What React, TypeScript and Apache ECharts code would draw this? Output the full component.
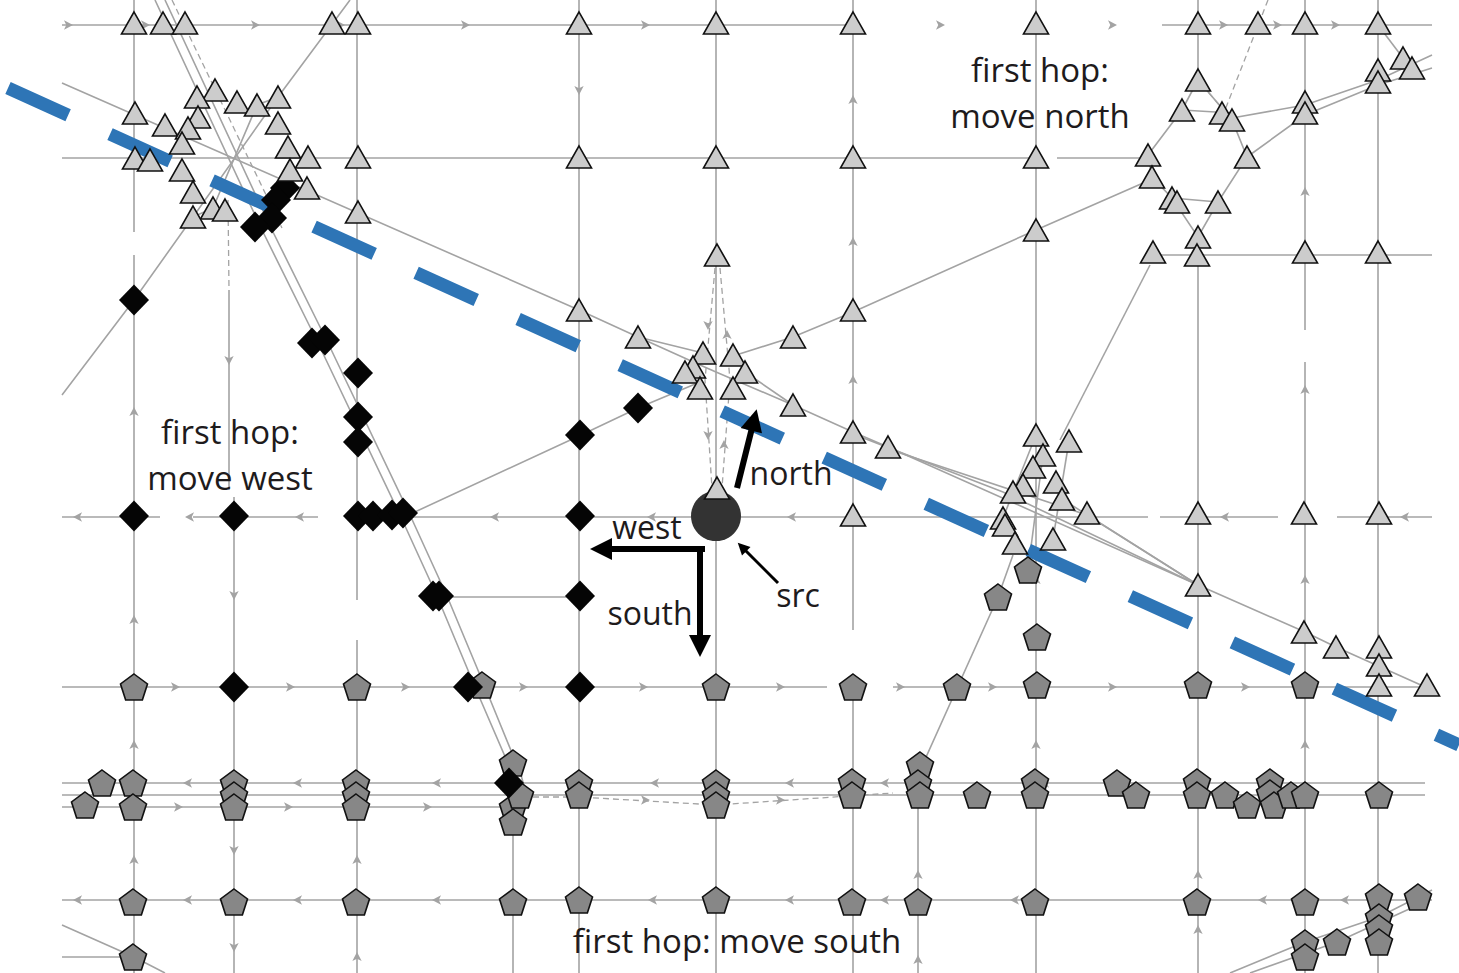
import React, { useEffect, useRef } from "react";
import * as echarts from "echarts";

type P = [number, number];

// Map nodes (map coordinates: x to the right, y downwards)
const triangles: P[] = [
  [134, 23], [163, 23], [185, 23], [332, 23], [358, 23], [579, 23], [716, 23], [853, 23], [1036, 23],
  [1198, 23], [1258, 23], [1305, 23], [1378, 23],
  [215, 90], [197, 97], [237, 102], [257, 105], [278, 97], [135, 113], [165, 125], [198, 117], [188, 128],
  [182, 143], [278, 123], [288, 147], [308, 157], [135, 158], [150, 160], [182, 170], [290, 170], [193, 192],
  [213, 208], [225, 210], [193, 217], [307, 188],
  [358, 157], [579, 157], [716, 157], [853, 157], [1036, 157], [358, 212], [717, 255],
  [579, 310], [638, 337], [703, 353], [733, 355], [793, 337], [853, 310], [693, 367], [685, 372], [745, 372],
  [700, 388], [733, 388], [793, 405], [853, 432], [888, 447], [853, 515], [1036, 230],
  [1198, 80], [1182, 110], [1222, 113], [1232, 120], [1305, 102], [1305, 113], [1378, 70], [1378, 82],
  [1403, 58], [1412, 68], [1148, 155], [1152, 177], [1247, 157], [1172, 198], [1177, 202], [1218, 202],
  [1198, 237], [1153, 252], [1197, 255], [1305, 252], [1378, 252],
  [1036, 435], [1069, 441], [1043, 455], [1033, 467], [1056, 482], [1023, 485], [1013, 492], [1062, 499],
  [1087, 513], [1003, 518], [1005, 525], [1015, 543], [1053, 539], [1198, 513], [1304, 513], [1379, 513],
  [1198, 585], [1304, 632], [1336, 647], [1379, 647], [1379, 665], [1379, 685], [1427, 685],
];

const topTriangle: P[] = [[717, 488]];

const diamonds: P[] = [
  [285, 188], [276, 200], [272, 218], [255, 227], [134, 300], [312, 343], [325, 340], [358, 373], [358, 417],
  [358, 442], [134, 516], [234, 516], [358, 516], [373, 516], [392, 515], [403, 513], [433, 596], [439, 596],
  [468, 687], [234, 687], [580, 435], [638, 408], [580, 516], [580, 596], [580, 687], [509, 783],
];

const pentagons: P[] = [
  [134, 687], [357, 687], [482, 685], [716, 687], [853, 687], [957, 687], [1037, 685], [1198, 685], [1305, 685],
  [1028, 570], [998, 597], [1037, 637],
  [102, 783], [133, 783], [85, 805], [133, 807], [234, 783], [234, 795], [234, 807], [356, 783], [356, 795],
  [356, 807], [513, 763], [513, 807], [513, 822], [520, 795], [579, 783], [579, 795], [716, 783], [716, 795],
  [716, 805], [852, 782], [852, 795], [920, 765], [918, 783], [920, 795], [977, 795], [1035, 782], [1035, 795],
  [1117, 783], [1136, 795], [1197, 782], [1197, 795], [1225, 795], [1247, 805], [1270, 782], [1270, 793],
  [1274, 805], [1291, 795], [1305, 795], [1379, 795],
  [133, 902], [234, 902], [356, 902], [513, 902], [579, 900], [716, 900], [852, 902], [918, 902], [1035, 902],
  [1197, 902], [1305, 902], [1379, 897], [1418, 897],
  [1379, 917], [1379, 928], [1379, 942], [1337, 942], [1305, 943], [1305, 957], [133, 957],
];

const sourceNode: P[] = [[716, 516]];

// Roads (solid)
const roads: P[][] = [
  [[134, 0], [134, 232]], [[134, 255], [134, 973]],
  [[229, 290], [229, 490]], [[234, 497], [234, 973]],
  [[357, 0], [357, 600]], [[357, 640], [357, 973]],
  [[513, 760], [513, 973]],
  [[579, 0], [579, 973]],
  [[716, 0], [716, 973]],
  [[853, 0], [853, 630]], [[853, 687], [853, 973]],
  [[918, 783], [918, 973]],
  [[1036, 0], [1036, 973]],
  [[1198, 0], [1198, 80]], [[1198, 255], [1198, 973]],
  [[1305, 0], [1305, 330]], [[1305, 362], [1305, 973]],
  [[1378, 0], [1378, 973]],
  [[62, 25], [853, 25]], [[1162, 25], [1432, 25]],
  [[62, 158], [1036, 158]], [[1057, 158], [1148, 158]],
  [[1153, 255], [1432, 255]],
  [[62, 517], [160, 517]], [[193, 517], [318, 517]], [[357, 517], [1148, 517]], [[1160, 517], [1278, 517]],
  [[1337, 517], [1432, 517]],
  [[430, 597], [579, 597]],
  [[62, 687], [827, 687]], [[893, 687], [1432, 687]],
  [[62, 783], [1425, 783]], [[62, 795], [1425, 795]], [[62, 807], [520, 807]],
  [[62, 900], [1432, 900]], [[62, 957], [134, 957]],
  [[62, 83], [579, 310], [638, 337], [700, 365], [716, 372], [793, 405], [853, 432], [888, 447], [1198, 585],
    [1305, 632], [1336, 647], [1432, 690]],
  [[853, 434], [1003, 492], [1198, 585]], [[888, 449], [1087, 515], [1198, 585]], [[1062, 499], [1198, 585]],
  [[155, 0], [262, 230], [318, 343], [400, 515], [437, 596], [475, 687], [513, 775], [522, 800]],
  [[165, 0], [272, 230], [328, 343], [410, 515], [447, 596], [485, 687], [521, 775], [528, 800]],
  [[62, 395], [134, 300], [193, 217], [278, 97], [350, 0]],
  [[404, 517], [579, 436], [638, 408], [700, 382]],
  [[733, 356], [793, 337], [853, 312], [1036, 230], [1150, 180]],
  [[638, 337], [703, 353]], [[745, 372], [793, 405]],
  [[1198, 80], [1182, 110], [1148, 155], [1152, 177], [1172, 198], [1198, 237], [1218, 202], [1247, 157],
    [1232, 120], [1198, 80]],
  [[1182, 110], [1232, 113]], [[1172, 198], [1218, 202]],
  [[1232, 118], [1305, 105], [1378, 80], [1432, 55]],
  [[1247, 157], [1305, 115], [1378, 85], [1432, 68]],
  [[1378, 25], [1403, 58]],
  [[1150, 265], [1060, 440]],
  [[918, 775], [998, 597], [1013, 555]],
  [[1003, 518], [1036, 435]], [[1053, 539], [1069, 441]], [[1028, 570], [1043, 455]],
  [[1230, 973], [1305, 942], [1379, 917], [1432, 890]], [[1250, 973], [1337, 942], [1418, 905]],
  [[62, 925], [134, 957], [165, 973]],
  [[193, 217], [213, 208], [257, 105], [278, 97]],
];

// Roads (dashed)
const dashedRoads: P[][] = [
  [[228, 200], [229, 290]],
  [[172, 0], [282, 228]],
  [[715, 268], [705, 380], [712, 488]], [[720, 268], [730, 380], [722, 488]],
  [[513, 797], [579, 797], [716, 805], [893, 793]],
  [[1268, 0], [1225, 110]],
  [[1232, 120], [1198, 80]],
];

// Direction markers on roads: x, y, rotation (0 up, 180 down, 90 left, -90 right)
const roadArrows: [number, number, number][] = [
  [73, 25, -90], [150, 25, -90], [260, 25, -90], [345, 25, -90], [470, 25, -90], [650, 25, -90], [945, 25, -90],
  [1117, 25, -90], [1228, 25, -90], [1282, 25, -90], [1340, 25, -90],
  [579, 95, 180], [853, 95, 0], [853, 237, 0], [853, 375, 0],
  [1305, 187, 0], [1305, 385, 0], [1305, 575, 0], [1305, 740, 0], [1036, 575, 0], [1036, 740, 0],
  [73, 517, 90], [185, 517, 90], [295, 517, 90], [490, 517, 90], [647, 517, 90], [787, 517, 90],
  [1220, 517, 90], [1400, 517, 90],
  [134, 407, 0], [134, 615, 0], [134, 740, 0], [134, 855, 0], [134, 952, 0],
  [229, 365, 180], [234, 600, 180], [234, 855, 180], [234, 952, 180],
  [357, 855, 0], [357, 952, 0],
  [180, 687, -90], [295, 687, -90], [410, 687, -90], [528, 687, -90], [648, 687, -90], [785, 687, -90],
  [905, 687, -90], [997, 687, -90], [1117, 687, -90], [1250, 687, -90],
  [183, 783, 90], [293, 783, 90], [432, 783, 90], [650, 783, 90], [785, 783, 90], [880, 783, 90], [1040, 783, 90],
  [183, 807, -90], [293, 807, -90], [432, 807, -90], [650, 800, -90], [785, 800, -90], [930, 795, -90],
  [985, 795, -90],
  [73, 900, 90], [183, 900, 90], [293, 900, 90], [432, 900, 90], [648, 900, 90], [785, 900, 90], [880, 900, 90],
  [1010, 900, 90], [1258, 900, 90], [1340, 900, 90],
  [918, 870, 0], [918, 955, 0], [1198, 870, 0], [1198, 925, 0],
  [708, 330, 180], [727, 330, 0], [708, 440, 180], [724, 440, 0],
];

const blueLine: P[] = [[8, 88], [1459, 745]];

// Heavy direction arrows and the src pointer
const heavyArrows: P[][] = [
  [[737, 488], [754, 420]],
  [[705, 549], [601, 549]],
  [[700, 546], [700, 646]],
];
const srcPointer: P[][] = [[[778, 583], [742, 547]]];

const labels: { text: string; at: P; size: number }[] = [
  { text: "first hop:\nmove north", at: [1040, 92], size: 33 },
  { text: "first hop:\nmove west", at: [230, 454], size: 33 },
  { text: "first hop: move south", at: [737, 940], size: 33 },
  { text: "north", at: [791, 472], size: 32 },
  { text: "west", at: [647, 526], size: 32 },
  { text: "south", at: [650, 612], size: 32 },
  { text: "src", at: [798, 594], size: 32 },
];

const PENTAGON = "path://M0,-10L9.51,-3.09L5.88,8.09L-5.88,8.09L-9.51,-3.09Z";
const ROAD = "#a3a3a3";

export default function App() {
  const ref = useRef<HTMLDivElement>(null);
  useEffect(() => {
    if (!ref.current) return;
    const chart = echarts.init(ref.current, undefined, { renderer: "svg" });
    const nodeBorder = { borderColor: "#111111", borderWidth: 1.6, opacity: 1 };
    chart.setOption({
      animation: false,
      backgroundColor: "#ffffff",
      grid: { left: 0, right: 0, top: 0, bottom: 0 },
      xAxis: { type: "value", min: 0, max: 1459, show: false },
      yAxis: { type: "value", min: 0, max: 973, inverse: true, show: false },
      series: [
        {
          type: "lines", coordinateSystem: "cartesian2d", polyline: true, silent: true,
          lineStyle: { color: ROAD, width: 1.6, opacity: 1 },
          data: roads.map((c) => ({ coords: c })),
        },
        {
          type: "lines", coordinateSystem: "cartesian2d", polyline: true, silent: true,
          lineStyle: { color: ROAD, width: 1.3, opacity: 1, type: [6, 4] },
          data: dashedRoads.map((c) => ({ coords: c })),
        },
        {
          type: "scatter", silent: true, symbol: "arrow", symbolSize: [7, 9],
          itemStyle: { color: "#a3a3a3", opacity: 1 },
          data: roadArrows.map(([x, y, r]) => ({ value: [x, y], symbolRotate: r })),
        },
        {
          type: "scatter", silent: true, symbol: "circle", symbolSize: 50,
          itemStyle: { color: "#333333", opacity: 1 }, data: sourceNode,
        },
        {
          type: "scatter", silent: true, symbol: PENTAGON, symbolSize: [27, 26],
          itemStyle: { color: "#878787", ...nodeBorder }, data: pentagons,
        },
        {
          type: "scatter", silent: true, symbol: "diamond", symbolSize: [30, 31],
          itemStyle: { color: "#050505", opacity: 1 }, data: diamonds,
        },
        {
          type: "scatter", silent: true, symbol: "triangle", symbolSize: [25, 22],
          itemStyle: { color: "#cccccc", ...nodeBorder }, data: triangles.concat(topTriangle),
        },
        {
          type: "lines", coordinateSystem: "cartesian2d", polyline: true, silent: true,
          lineStyle: { color: "#2e75b6", width: 13, opacity: 1, type: [66, 46], cap: "butt" },
          data: [{ coords: blueLine }],
        },
        {
          type: "lines", coordinateSystem: "cartesian2d", silent: true,
          symbol: ["none", "triangle"], symbolSize: [0, 22],
          lineStyle: { color: "#000000", width: 6, opacity: 1 },
          data: heavyArrows.map((c) => ({ coords: c })),
        },
        {
          type: "lines", coordinateSystem: "cartesian2d", silent: true,
          symbol: ["none", "triangle"], symbolSize: [0, 12],
          lineStyle: { color: "#000000", width: 3, opacity: 1 },
          data: srcPointer.map((c) => ({ coords: c })),
        },
        {
          type: "scatter", silent: true, symbolSize: 0,
          itemStyle: { color: "rgba(0,0,0,0)", opacity: 1 },
          data: labels.map((l) => ({
            name: l.text, value: l.at,
            label: { fontSize: l.size },
          })),
          label: {
            show: true, position: "inside", formatter: "{b}",
            fontFamily: "Open Sans", color: "#1e1b1c", opacity: 1, lineHeight: 46,
            align: "center", verticalAlign: "middle",
          },
        },
      ],
    });
    return () => chart.dispose();
  }, []);
  return (
    <div
      ref={ref}
      style={{ position: "absolute", left: 0, top: 0, width: 1459, height: 973, background: "#fff" }}
    />
  );
}
